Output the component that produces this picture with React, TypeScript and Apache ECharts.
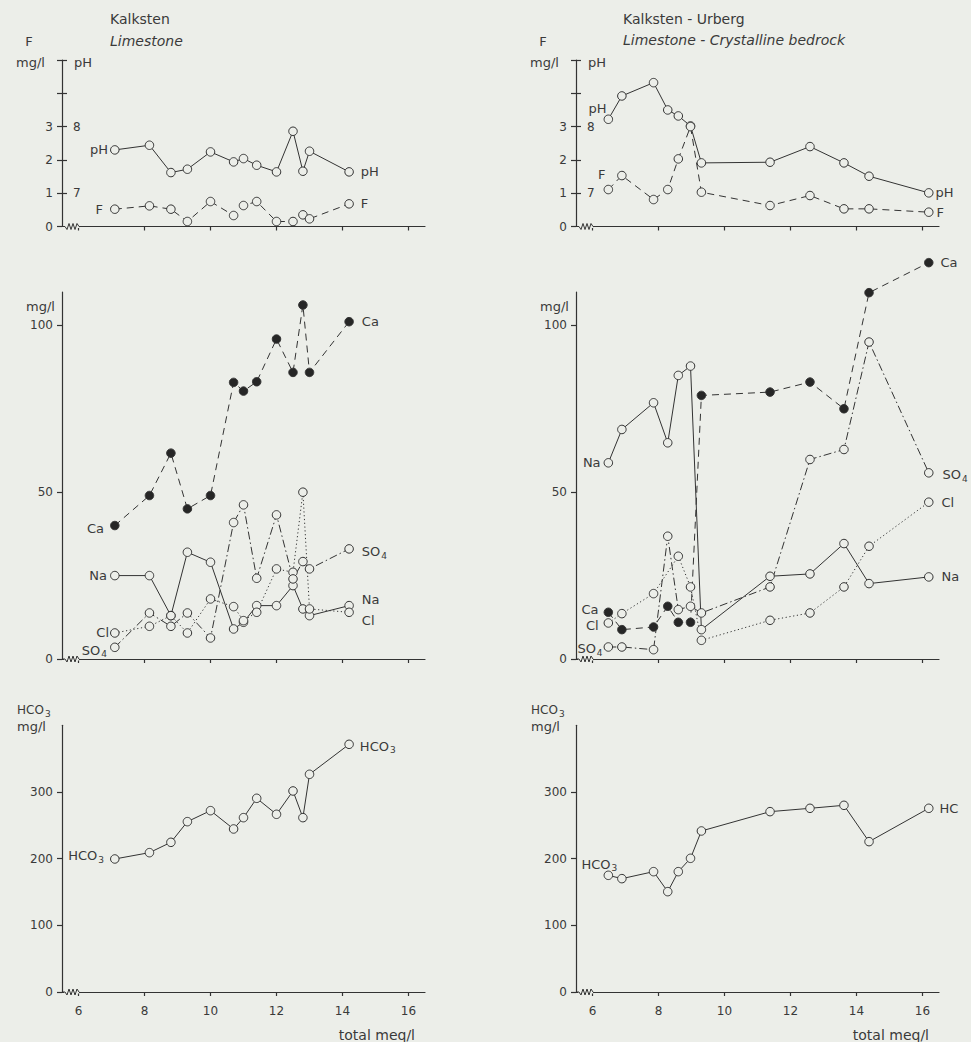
import React, { useEffect, useRef } from 'react';
import * as echarts from 'echarts';

// ---------- style constants ----------
const BG = '#eceee9';
const INK = '#333333';
const TXT = '#3a3a3a';
const FONT = '"DejaVu Sans", sans-serif';

// ---------- axis ticks ----------
const xTicks = [6, 8, 10, 12, 14, 16];
const fTicks = [0, 1, 2, 3, 4, 5];
const fLabels = [0, 1, 2, 3];
const phTicks = [7, 7.5, 8, 8.5, 9];
const phLabels = [7, 8];
const mgTicks = [0, 50, 100];
const hco3Ticks = [0, 100, 200, 300];

// ---------- Kalksten / Limestone ----------
const limeX = [7.1, 8.15, 8.8, 9.3, 10.0, 10.7, 11.0, 11.4, 12.0, 12.5, 12.8, 13.0, 14.2];
const limePH = [7.65, 7.72, 7.31, 7.36, 7.62, 7.47, 7.52, 7.42, 7.32, 7.93, 7.33, 7.63, 7.32];
const limeF = [0.52, 0.62, 0.52, 0.15, 0.75, 0.33, 0.63, 0.75, 0.15, 0.15, 0.35, 0.23, 0.68];
const limeCa = [40, 49, 61.7, 45, 49, 82.9, 80.3, 83.1, 95.9, 85.9, 106.1, 85.9, 101.1];
const limeNa = [25, 25, 13, 32, 29, 9, 11, 16, 16, 22, 15, 13, 16];
const limeSO4 = [3.5, 13.8, 9.8, 13.8, 6.3, 40.9, 46.2, 24.2, 43.2, 24, 29.2, 27, 33];
const limeCl = [7.8, 9.8, 13, 7.8, 18, 15.7, 11.5, 14, 27, 26, 50, 15, 14];
const limeHCO3 = [199.5, 209, 224.5, 255.5, 272, 244.5, 261.5, 290.5, 266.5, 301.5, 261.5, 326.5, 371.5];

// ---------- Kalksten - Urberg / Limestone - Crystalline bedrock ----------
const urbX = [6.48, 6.89, 7.85, 8.28, 8.6, 8.97, 9.3, 11.38, 12.59, 13.62, 14.38, 16.19];
const urbPH = [8.11, 8.46, 8.66, 8.25, 8.16, 8.01, 7.455, 7.465, 7.7, 7.455, 7.255, 7.005];
const urbF = [1.11, 1.53, 0.81, 1.11, 2.03, 3.0, 1.03, 0.63, 0.93, 0.53, 0.53, 0.43];
const urbCa = [14, 8.8, 9.6, 15.8, 11, 11, 79, 80, 83, 75, 109.8, 118.8];
const urbNa = [58.8, 68.8, 76.8, 64.8, 85, 87.8, 8.8, 24.8, 25.5, 34.6, 22.6, 24.6];
const urbSO4 = [3.6, 3.6, 2.8, 36.8, 14.8, 15.8, 13.8, 21.6, 59.8, 62.8, 95, 55.8];
const urbCl = [10.8, 13.6, 19.6, null, 30.8, 21.6, 5.6, 11.6, 13.8, 21.6, 33.8, 47];
const urbHCO3 = [175, 170, 180.5, 150.5, 180.5, 200.5, 241.5, 270.5, 275.5, 280, 225.5, 275.5];

// ---------- layout ----------
const COLS = [62, 576];
const W = 363;
const ROWS = [
  { top: 60, h: 166.5 },
  { top: 292, h: 367 },
  { top: 725.3, h: 266.7 },
];

const DASH = [7, 5];
const DASHDOT = [8, 3, 1.5, 3];
const DOT = [1.2, 2.6];

const RICH = {
  m: { fontSize: 13, fontFamily: FONT, color: TXT },
  s: { fontSize: 9, fontFamily: FONT, color: TXT, padding: [8, 0, 0, 1] },
};

type LabelSpec = { text: string; pos: string; dist?: number; off?: [number, number] };

function lineSeries(
  name: string,
  xs: number[],
  ys: (number | null)[],
  xi: number,
  yi: number,
  dash: any,
  filled: boolean,
  start?: LabelSpec,
  end?: LabelSpec
) {
  const data = xs.map((x, i) => {
    const y = ys[i];
    const item: any = { value: [x, y == null ? '-' : y] };
    const spec = i === 0 ? start : i === xs.length - 1 ? end : undefined;
    if (spec) {
      item.label = {
        show: true,
        position: spec.pos,
        distance: spec.dist ?? 5,
        offset: spec.off ?? [0, 0],
        formatter: spec.text,
        color: TXT,
        fontSize: 13,
        fontFamily: FONT,
        rich: RICH,
      };
    }
    return item;
  });
  return {
    type: 'line',
    name,
    xAxisIndex: xi,
    yAxisIndex: yi,
    data,
    symbol: 'circle',
    symbolSize: 8.5,
    showAllSymbol: true,
    connectNulls: true,
    clip: false,
    silent: true,
    lineStyle: { color: INK, width: 1, type: dash },
    itemStyle: { color: filled ? '#262626' : BG, borderColor: INK, borderWidth: 1 },
    label: { show: false },
    emphasis: { disabled: true },
    z: 3,
  };
}

function zigzag(xi: number, yi: number) {
  return {
    type: 'custom',
    xAxisIndex: xi,
    yAxisIndex: yi,
    data: [[5.5, 0]],
    silent: true,
    clip: false,
    z: 5,
    renderItem: (_p: any, api: any) => {
      const p = api.coord([api.value(0), api.value(1)]);
      const x0 = p[0];
      const y0 = p[1];
      return {
        type: 'group',
        children: [
          { type: 'rect', shape: { x: x0 + 2, y: y0 - 1.5, width: 15, height: 3 }, style: { fill: BG } },
          {
            type: 'polyline',
            shape: {
              points: [
                [x0, y0], [x0 + 3, y0], [x0 + 5, y0 + 3], [x0 + 7, y0 - 3], [x0 + 9, y0 + 3],
                [x0 + 11, y0 - 3], [x0 + 13, y0 + 3], [x0 + 15, y0 - 3], [x0 + 17, y0],
              ],
            },
            style: { stroke: INK, fill: 'none', lineWidth: 1 },
          },
        ],
      };
    },
  };
}

function txt(text: string, x: number, y: number, align = 'left', size = 13, italic = false) {
  return {
    type: 'text',
    x,
    y,
    silent: true,
    style: {
      text,
      fill: TXT,
      fontSize: size,
      fontFamily: FONT,
      fontStyle: italic ? 'italic' : 'normal',
      textAlign: align,
      textVerticalAlign: 'middle',
    },
  };
}

function buildOption() {
  const axisLineStyle = { color: INK, width: 1.2 };
  const grids: any[] = [];
  const xAxes: any[] = [];
  for (let r = 0; r < 3; r++) {
    for (let c = 0; c < 2; c++) {
      const gi = r * 2 + c;
      grids.push({
        left: COLS[c], top: ROWS[r].top, width: W, height: ROWS[r].h,
        containLabel: false, outerBoundsMode: 'none',
      });
      xAxes.push({
        type: 'value', gridIndex: gi, min: 5.5, max: 16.5,
        axisLine: { show: true, onZero: false, lineStyle: axisLineStyle },
        axisTick: { show: true, length: 4, customValues: xTicks, lineStyle: axisLineStyle },
        axisLabel: {
          show: r === 2, customValues: xTicks, margin: 13,
          color: TXT, fontSize: 12, fontFamily: FONT,
        },
        splitLine: { show: false },
      });
    }
  }
  const yBase = (gi: number, max: number, ticks: number[], labels: number[]) => ({
    type: 'value', gridIndex: gi, min: 0, max, position: 'left',
    axisLine: { show: true, onZero: false, lineStyle: axisLineStyle },
    axisTick: { show: true, length: 5, customValues: ticks, lineStyle: axisLineStyle },
    axisLabel: { customValues: labels, margin: 9, color: TXT, fontSize: 12, fontFamily: FONT },
    splitLine: { show: false },
  });
  const yPH = (gi: number) => ({
    type: 'value', gridIndex: gi, min: 6.5, max: 9, position: 'left',
    axisLine: { show: false },
    axisTick: { show: true, inside: true, length: 5, customValues: phTicks, lineStyle: axisLineStyle },
    axisLabel: { inside: true, customValues: phLabels, margin: 11, color: TXT, fontSize: 12, fontFamily: FONT },
    splitLine: { show: false },
  });
  const yAxes = [
    yBase(0, 5, fTicks, fLabels),
    yPH(0),
    yBase(1, 5, fTicks, fLabels),
    yPH(1),
    yBase(2, 110, mgTicks, mgTicks),
    yBase(3, 110, mgTicks, mgTicks),
    yBase(4, 400, hco3Ticks, hco3Ticks),
    yBase(5, 400, hco3Ticks, hco3Ticks),
  ];

  const series: any[] = [
    // Limestone top
    lineSeries('pH', limeX, limePH, 0, 1, 'solid', false,
      { text: 'pH', pos: 'left', dist: 2 }, { text: 'pH', pos: 'right', dist: 7 }),
    lineSeries('F', limeX, limeF, 0, 0, DASH, false,
      { text: 'F', pos: 'left', dist: 7 }, { text: 'F', pos: 'right', dist: 7 }),
    // Urberg top
    lineSeries('pH', urbX, urbPH, 1, 3, 'solid', false,
      { text: 'pH', pos: 'left', dist: 0, off: [3, -11] }, { text: 'pH', pos: 'right', dist: 2 }),
    lineSeries('F', urbX, urbF, 1, 2, DASH, false,
      { text: 'F', pos: 'left', dist: 0, off: [2, -15] }, { text: 'F', pos: 'right', dist: 3 }),
    // Limestone middle
    lineSeries('Na', limeX, limeNa, 2, 4, 'solid', false,
      { text: 'Na', pos: 'left', dist: 3 }, { text: 'Na', pos: 'right', dist: 8, off: [0, -6] }),
    lineSeries('Cl', limeX, limeCl, 2, 4, DOT, false,
      { text: 'Cl', pos: 'left', dist: 1 }, { text: 'Cl', pos: 'right', dist: 8, off: [0, 8] }),
    lineSeries('SO4', limeX, limeSO4, 2, 4, DASHDOT, false,
      { text: '{m|SO}{s|4}', pos: 'left', dist: 3, off: [0, 3] }, { text: '{m|SO}{s|4}', pos: 'right', dist: 8, off: [0, 3] }),
    lineSeries('Ca', limeX, limeCa, 2, 4, DASH, true,
      { text: 'Ca', pos: 'left', dist: 6, off: [0, 3] }, { text: 'Ca', pos: 'right', dist: 8 }),
    // Urberg middle
    lineSeries('Na', urbX, urbNa, 3, 5, 'solid', false,
      { text: 'Na', pos: 'left', dist: 3 }, { text: 'Na', pos: 'right', dist: 8 }),
    lineSeries('Cl', urbX, urbCl, 3, 5, DOT, false,
      { text: 'Cl', pos: 'left', dist: 5, off: [0, 3] }, { text: 'Cl', pos: 'right', dist: 8 }),
    lineSeries('SO4', urbX, urbSO4, 3, 5, DASHDOT, false,
      { text: '{m|SO}{s|4}', pos: 'left', dist: 1, off: [0, 2] }, { text: '{m|SO}{s|4}', pos: 'right', dist: 9, off: [0, 2] }),
    lineSeries('Ca', urbX, urbCa, 3, 5, DASH, true,
      { text: 'Ca', pos: 'left', dist: 5, off: [0, -3] }, { text: 'Ca', pos: 'right', dist: 7 }),
    // HCO3
    lineSeries('HCO3', limeX, limeHCO3, 4, 6, 'solid', false,
      { text: '{m|HCO}{s|3}', pos: 'left', dist: 6, off: [0, -3] }, { text: '{m|HCO}{s|3}', pos: 'right', dist: 6, off: [0, 2] }),
    lineSeries('HCO3', urbX, urbHCO3, 5, 7, 'solid', false,
      { text: '{m|HCO}{s|3}', pos: 'top', dist: 0, off: [-9, 2] }, { text: 'HC', pos: 'right', dist: 6 }),
    // axis breaks
    zigzag(0, 0), zigzag(1, 2), zigzag(2, 4), zigzag(3, 5), zigzag(4, 6), zigzag(5, 7),
  ];

  const graphics: any[] = [
    // titles
    txt('Kalksten', 110, 19, 'left', 14),
    txt('Limestone', 110, 41, 'left', 14, true),
    txt('Kalksten - Urberg', 623, 19, 'left', 14),
    txt('Limestone - Crystalline bedrock', 623, 40, 'left', 14, true),
  ];
  for (let c = 0; c < 2; c++) {
    const L = COLS[c];
    // top row axis names
    graphics.push(txt('F', L - 33, ROWS[0].top - 19, 'center'));
    graphics.push(txt('mg/l', L - 17, ROWS[0].top + 2, 'right'));
    graphics.push(txt('pH', L + 12, ROWS[0].top + 2, 'left'));
    // middle row
    graphics.push(txt('mg/l', L - 7, ROWS[1].top + 14, 'right'));
    // bottom row
    graphics.push(txt('HCO', L - 45, ROWS[2].top - 15, 'left', 12));
    graphics.push(txt('3', L - 17, ROWS[2].top - 11, 'left', 9));
    graphics.push(txt('mg/l', L - 45, ROWS[2].top + 1, 'left'));
    // x axis name
    graphics.push(txt('total meq/l', L + W - 10, ROWS[2].top + ROWS[2].h + 43, 'right', 14));
  }

  return {
    animation: false,
    backgroundColor: BG,
    textStyle: { fontFamily: FONT },
    grid: grids,
    xAxis: xAxes,
    yAxis: yAxes,
    series,
    graphic: { elements: graphics },
  };
}

const App = () => {
  const ref = useRef<HTMLDivElement>(null);
  useEffect(() => {
    const chart = echarts.init(ref.current!, null, { renderer: 'svg' });
    chart.setOption(buildOption() as any);
    return () => chart.dispose();
  }, []);
  return (
    <div
      ref={ref}
      style={{ position: 'absolute', left: 0, top: 0, width: 971, height: 1042, background: BG }}
    />
  );
};

export default App;
